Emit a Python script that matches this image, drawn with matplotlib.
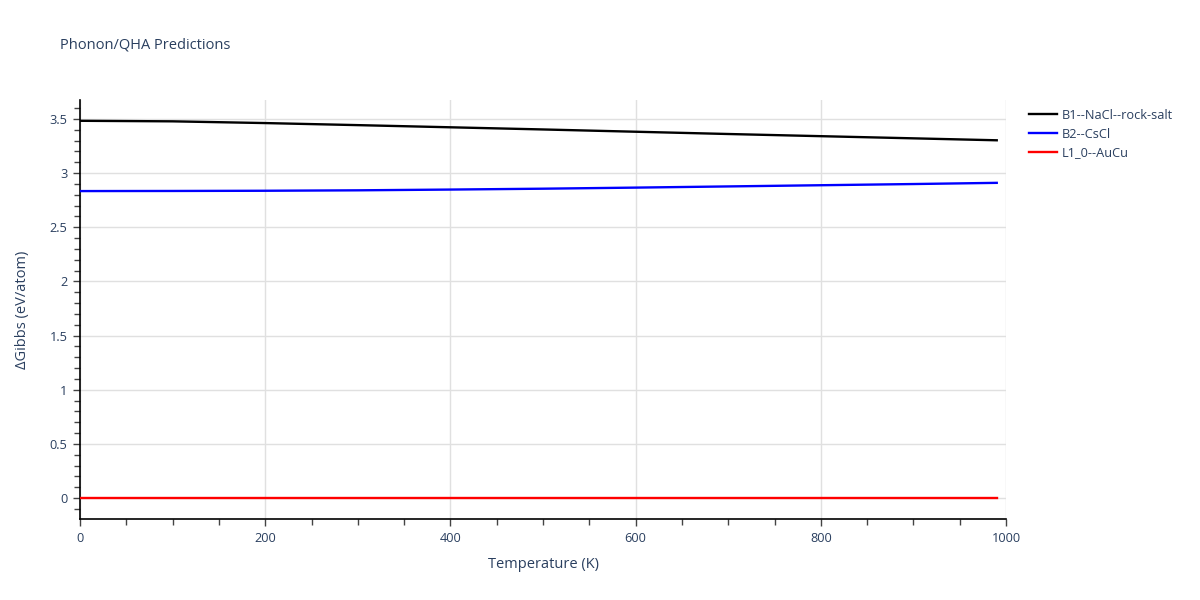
import numpy as np
import matplotlib.pyplot as plt
from matplotlib.ticker import MultipleLocator, FuncFormatter

plt.rcParams['font.family'] = ['Open Sans', 'DejaVu Sans']

# temperature (K) and Gibbs energy difference (eV/atom)
temps = [0, 100, 200, 300, 400, 500, 600, 700, 800, 900, 990]
g_b1 = [3.483, 3.478, 3.462, 3.443, 3.423, 3.403, 3.382, 3.361, 3.341, 3.321, 3.303]
g_b2 = [2.834, 2.835, 2.837, 2.841, 2.848, 2.856, 2.866, 2.877, 2.888, 2.899, 2.910]
g_l10 = [0.0, 0.0, 0.0, 0.0, 0.0, 0.0, 0.0, 0.0, 0.0, 0.0, 0.0]
names = ['B1--NaCl--rock-salt', 'B2--CsCl', 'L1_0--AuCu']
colors = ['black', 'blue', 'red']

txt = '#2a3f5f'

fig = plt.figure(figsize=(12, 6), dpi=100)
ax = fig.add_axes([80/1200, 1 - 519/600, 926/1200, 419/600])

for y, name, c in zip([g_b1, g_b2, g_l10], names, colors):
    ax.plot(temps, y, color=c, lw=1.7, label=name, zorder=3)

ax.set_xlim(0, 1000)
ax.set_ylim(-0.194, 3.675)

ax.xaxis.set_major_locator(MultipleLocator(200))
ax.xaxis.set_minor_locator(MultipleLocator(50))
ax.yaxis.set_major_locator(MultipleLocator(0.5))
ax.yaxis.set_minor_locator(MultipleLocator(0.1))
ax.yaxis.set_major_formatter(FuncFormatter(lambda v, p: '{:g}'.format(round(v, 2))))

ax.grid(True, which='major', color='#e0e0e0', lw=1, zorder=0)
ax.set_axisbelow(True)
for s in ['top', 'right']:
    ax.spines[s].set_visible(False)
for s in ['left', 'bottom']:
    ax.spines[s].set_color('black')
    ax.spines[s].set_linewidth(1.2)

ax.tick_params(which='major', length=5, width=1, color='#444444', labelsize=9.2,
               labelcolor=txt, pad=4)
ax.tick_params(which='minor', length=4, width=1, color='#444444')

ax.set_xlabel('Temperature (K)', fontsize=10.5, color=txt, labelpad=9)
ax.set_ylabel('ΔGibbs (eV/atom)', fontsize=10.5, color=txt, labelpad=14)

fig.text(60/1200, 1 - 45/600, 'Phonon/QHA Predictions', fontsize=10.5, color=txt,
         va='center', ha='left')

ax.legend(loc='upper left', bbox_to_anchor=(1.015, 1.0), frameon=False,
          fontsize=9.2, labelcolor=txt, handlelength=2.2, handletextpad=0.4,
          borderaxespad=0.3, labelspacing=0.45)

fig.savefig('out.png', dpi=100)
